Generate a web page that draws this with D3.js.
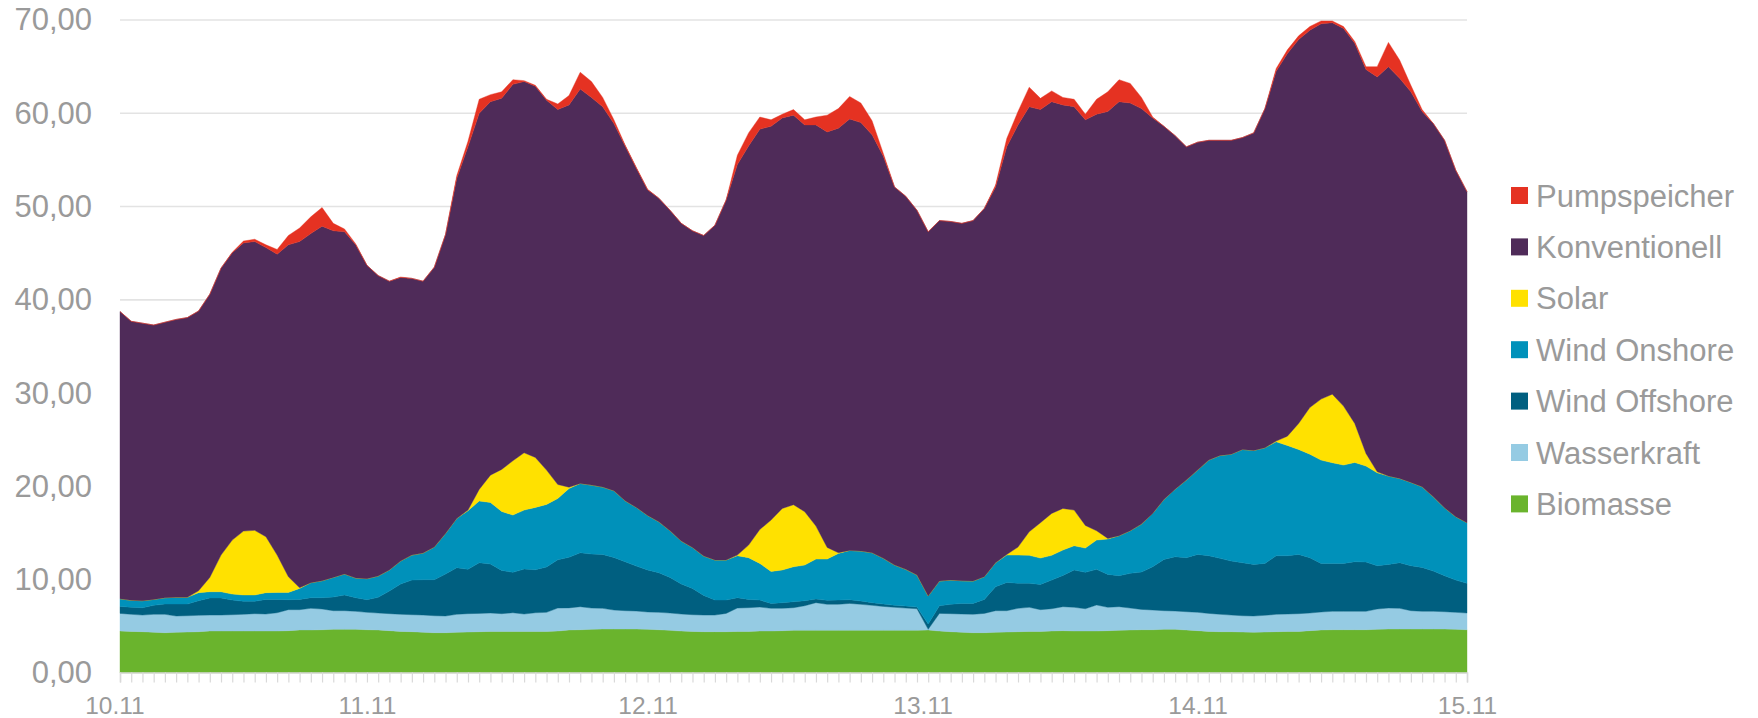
<!DOCTYPE html>
<html>
<head>
<meta charset="utf-8">
<script src="https://cdn.jsdelivr.net/npm/d3@7"></script>
<style>
  body { margin: 0; background: #fff; }
  svg { display: block; }
  text { font-family: "Liberation Sans", Arial, sans-serif; }
</style>
</head>
<body>
<div id="chart"></div>
<script>
// hourly values from 10.11 00:00 to 15.11 00:00 (121 points)
var biomasse = [
  4.50, 4.46, 4.43, 4.36, 4.32, 4.36, 4.39, 4.43, 4.50, 4.50, 4.50, 4.50, 4.50, 4.50, 4.50, 4.54, 4.61, 4.61, 4.64, 4.68,
  4.68, 4.68, 4.64, 4.61, 4.54, 4.46, 4.43, 4.36, 4.32, 4.32, 4.36, 4.39, 4.43, 4.46, 4.46, 4.46, 4.46, 4.46, 4.46, 4.50,
  4.61, 4.64, 4.68, 4.71, 4.71, 4.71, 4.71, 4.68, 4.64, 4.57, 4.50, 4.46, 4.43, 4.43, 4.43, 4.46, 4.46, 4.50, 4.50, 4.54,
  4.57, 4.57, 4.57, 4.57, 4.57, 4.57, 4.57, 4.57, 4.57, 4.57, 4.57, 4.57, 4.61, 4.50, 4.43, 4.36, 4.32, 4.32, 4.36, 4.39,
  4.43, 4.46, 4.46, 4.50, 4.54, 4.50, 4.50, 4.50, 4.54, 4.57, 4.61, 4.64, 4.64, 4.68, 4.68, 4.61, 4.54, 4.46, 4.43, 4.43,
  4.39, 4.36, 4.39, 4.43, 4.46, 4.46, 4.54, 4.61, 4.64, 4.64, 4.64, 4.64, 4.68, 4.71, 4.71, 4.71, 4.71, 4.71, 4.71, 4.68,
  4.64
];
var wasserkraft = [
  1.89, 1.83, 1.78, 1.93, 1.97, 1.75, 1.75, 1.75, 1.71, 1.71, 1.75, 1.79, 1.86, 1.82, 1.96, 2.25, 2.18, 2.32, 2.22, 2.00,
  2.00, 1.93, 1.86, 1.82, 1.82, 1.83, 1.82, 1.85, 1.82, 1.79, 1.93, 1.97, 1.96, 1.97, 1.90, 2.00, 1.86, 2.00, 2.04, 2.46,
  2.37, 2.47, 2.28, 2.22, 2.04, 1.97, 1.93, 1.86, 1.86, 1.86, 1.82, 1.79, 1.78, 1.78, 1.96, 2.50, 2.54, 2.57, 2.43, 2.39,
  2.43, 2.64, 2.97, 2.79, 2.79, 2.89, 2.79, 2.68, 2.57, 2.47, 2.39, 2.32, 0.07, 1.89, 1.93, 1.96, 1.97, 2.07, 2.32, 2.29,
  2.50, 2.58, 2.33, 2.39, 2.57, 2.54, 2.39, 2.79, 2.50, 2.54, 2.35, 2.18, 2.11, 2.00, 1.96, 1.96, 1.96, 1.93, 1.86, 1.78,
  1.75, 1.75, 1.79, 1.86, 1.86, 1.90, 1.89, 1.93, 1.97, 1.97, 1.97, 1.97, 2.18, 2.25, 2.22, 1.97, 1.90, 1.90, 1.86, 1.82,
  1.79
];
var windOffshore = [
  0.75, 0.75, 0.79, 0.96, 1.10, 1.28, 1.25, 1.57, 1.83, 1.83, 1.57, 1.39, 1.32, 1.57, 1.43, 1.07, 1.10, 1.14, 1.21, 1.46,
  1.68, 1.46, 1.36, 1.68, 2.43, 3.25, 3.71, 3.79, 3.86, 4.50, 5.00, 4.75, 5.43, 5.25, 4.64, 4.33, 4.82, 4.61, 4.86, 5.18,
  5.42, 5.78, 5.79, 5.78, 5.64, 5.25, 4.82, 4.50, 4.25, 3.82, 3.22, 2.82, 2.11, 1.61, 1.43, 1.11, 0.89, 0.75, 0.53, 0.61,
  0.64, 0.54, 0.39, 0.43, 0.46, 0.40, 0.35, 0.29, 0.25, 0.21, 0.22, 0.18, 0.57, 0.82, 1.00, 1.14, 1.17, 1.50, 2.57, 3.03,
  2.68, 2.57, 2.71, 3.07, 3.35, 4.00, 3.90, 3.82, 3.53, 3.32, 3.72, 4.00, 4.64, 5.50, 5.82, 5.79, 6.21, 6.18, 6.00, 5.79,
  5.68, 5.53, 5.57, 6.28, 6.25, 6.35, 5.93, 5.21, 5.14, 5.14, 5.32, 5.28, 4.64, 4.68, 4.89, 4.82, 4.71, 4.32, 3.86, 3.46,
  3.18
];
var windOnshore = [
  0.82, 0.75, 0.75, 0.64, 0.68, 0.72, 0.72, 0.86, 0.67, 0.67, 0.64, 0.68, 0.68, 0.72, 0.75, 0.78, 1.18, 1.61, 1.82, 2.11,
  2.25, 2.11, 2.25, 2.28, 2.25, 2.46, 2.68, 2.86, 3.50, 4.35, 5.28, 6.28, 6.61, 6.61, 6.32, 6.14, 6.32, 6.68, 6.71, 6.57,
  7.37, 7.43, 7.39, 7.22, 7.15, 6.53, 6.29, 5.85, 5.46, 5.00, 4.60, 4.39, 4.22, 4.29, 4.29, 4.50, 4.47, 3.93, 3.43, 3.50,
  3.75, 3.82, 4.28, 4.42, 5.00, 5.28, 5.36, 5.35, 4.90, 4.32, 3.93, 3.43, 3.00, 2.65, 2.60, 2.43, 2.40, 2.43, 2.57, 2.93,
  3.03, 3.00, 2.82, 2.65, 2.72, 2.60, 2.60, 3.14, 3.79, 4.28, 4.57, 5.14, 5.72, 6.43, 7.25, 8.32, 9.04, 10.25, 11.03, 11.46,
  12.14, 12.22, 12.39, 12.22, 11.82, 11.25, 11.10, 11.07, 10.79, 10.54, 10.64, 10.29, 9.96, 9.47, 9.04, 8.93, 8.64, 7.96, 7.28, 6.79,
  6.50
];
var solar = [
  0, 0, 0, 0, 0, 0, 0, 0.20, 1.54, 3.93, 5.79, 6.85, 6.93, 6.00, 4.00, 1.68, 0.07, 0, 0, 0,
  0, 0, 0, 0, 0, 0, 0, 0, 0, 0, 0, 0.07, 1.25, 2.92, 4.50, 5.82, 6.15, 5.36, 3.68, 1.50,
  0.15, 0, 0, 0, 0, 0, 0, 0, 0, 0, 0, 0, 0, 0, 0, 0.07, 1.35, 3.64, 5.50, 6.60,
  6.65, 5.72, 3.54, 1.25, 0.07, 0, 0, 0, 0, 0, 0, 0, 0, 0, 0, 0, 0, 0, 0, 0.07,
  0.86, 2.53, 3.79, 4.50, 4.46, 3.82, 2.43, 1.00, 0.07, 0, 0, 0, 0, 0, 0, 0, 0, 0, 0, 0,
  0, 0, 0, 0.07, 1.00, 2.79, 5.00, 6.54, 7.35, 6.32, 4.18, 1.36, 0.11, 0, 0, 0, 0, 0, 0, 0,
  0
];
var konventionell = [
  30.79, 29.91, 29.75, 29.41, 29.53, 29.79, 29.99, 29.99, 30.35, 30.76, 30.80, 30.89, 30.96, 30.99, 32.26, 35.58, 37.11, 37.42, 38.01, 37.15,
  36.69, 35.72, 33.59, 32.21, 30.96, 30.40, 29.66, 29.14, 30.00, 32.04, 36.43, 38.94, 40.32, 40.04, 39.78, 40.35, 39.79, 39.79, 39.65, 40.19,
  40.98, 42.28, 41.56, 40.77, 39.36, 38.04, 36.35, 34.91, 34.69, 34.35, 34.06, 33.94, 34.36, 35.89, 38.59, 41.86, 42.79, 42.91, 42.21, 41.86,
  41.76, 41.46, 43.00, 44.54, 45.51, 46.26, 45.93, 44.81, 43.11, 40.53, 39.99, 39.10, 39.05, 38.64, 38.44, 38.31, 38.64, 39.48, 40.28, 43.69,
  45.25, 45.56, 44.29, 44.14, 43.26, 43.24, 43.48, 44.65, 45.77, 46.54, 45.85, 44.54, 42.39, 39.99, 37.89, 35.72, 35.15, 34.28, 33.78, 33.64,
  33.44, 34.04, 36.36, 39.64, 41.01, 41.15, 40.44, 40.24, 39.81, 40.49, 40.75, 41.16, 42.33, 43.89, 42.89, 41.87, 40.24, 40.01, 39.39, 37.15,
  35.49
];
var pumpspeicher = [
  0, 0, 0, 0, 0, 0, 0, 0, 0, 0, 0.05, 0.20, 0.25, 0.30, 0.50, 1.00, 1.45, 1.80, 2.00, 0.80,
  0.30, 0.10, 0, 0, 0, 0.05, 0, 0, 0, 0, 0.30, 0.60, 1.50, 0.75, 0.70, 0.50, 0.10, 0.10, 0.10, 0.60,
  1.00, 1.80, 1.70, 1.00, 0.40, 0.10, 0.10, 0.05, 0, 0, 0, 0, 0, 0, 0, 1.00, 1.40, 1.30, 0.70, 0.40,
  0.60, 0.55, 0.85, 1.80, 2.10, 2.40, 2.10, 1.50, 0.30, 0, 0, 0, 0, 0, 0, 0, 0, 0, 0.20, 0.90,
  1.45, 2.10, 1.20, 1.15, 0.80, 0.80, 0.60, 1.60, 2.10, 2.35, 2.10, 1.20, 0.10, 0, 0, 0, 0, 0, 0, 0,
  0, 0, 0, 0.30, 0.40, 0.40, 0.40, 0.30, 0.20, 0.20, 0.20, 0.30, 1.10, 2.60, 1.95, 0.70, 0.20, 0, 0, 0,
  0
];

// day labels and the hour index where each one is centred
var dayLabels = ["10.11", "11.11", "12.11", "13.11", "14.11", "15.11"];
var dayLabelHours = [-0.5, 22, 47, 71.5, 96, 120];
var yTicks = [0, 10, 20, 30, 40, 50, 60, 70];

// series, bottom to top
var seriesNames = ["Biomasse", "Wasserkraft", "Wind Offshore", "Wind Onshore", "Solar", "Konventionell", "Pumpspeicher"];
var seriesValues = [biomasse, wasserkraft, windOffshore, windOnshore, solar, konventionell, pumpspeicher];
var colors = {
  "Biomasse": "#6ab42d",
  "Wasserkraft": "#95cbe3",
  "Wind Offshore": "#005f80",
  "Wind Onshore": "#0091ba",
  "Solar": "#ffe100",
  "Konventionell": "#4f2b59",
  "Pumpspeicher": "#e53222"
};

// build rows for the stack layout
var rows = biomasse.map(function(d, i) {
  var row = {hour: i};
  seriesNames.forEach(function(name, k) { row[name] = seriesValues[k][i]; });
  return row;
});

var width = 1758, height = 718;
var plot = {left: 120, right: 1467, top: 20, bottom: 673};

var svg = d3.select("#chart").append("svg")
    .attr("width", width)
    .attr("height", height);

var x = d3.scaleLinear()
    .domain([0, rows.length - 1])
    .range([plot.left, plot.right]);

var y = d3.scaleLinear()
    .domain([0, 70])
    .range([plot.bottom, plot.top]);

var de = d3.formatLocale({decimal: ",", thousands: ".", grouping: [3], currency: ["", " €"]});
var fmt = de.format(".2f");

// grid lines
svg.append("g")
  .selectAll("line")
  .data(yTicks.slice(1))
  .enter().append("line")
    .attr("x1", plot.left)
    .attr("x2", plot.right)
    .attr("y1", function(d) { return y(d); })
    .attr("y2", function(d) { return y(d); })
    .style("stroke", "#e3e3e3")
    .style("stroke-width", 1.6);

// stacked areas
var stack = d3.stack().keys(seriesNames);
var layers = stack(rows);

var area = d3.area()
    .x(function(d) { return x(d.data.hour); })
    .y0(function(d) { return y(d[0]); })
    .y1(function(d) { return y(d[1]); });

svg.append("g")
  .selectAll("path")
  .data(layers)
  .enter().append("path")
    .attr("d", area)
    .style("fill", function(d) { return colors[d.key]; })
    .style("stroke", function(d) { return colors[d.key]; })
    .style("stroke-width", 0.4);

// x axis: hourly ticks
var xAxis = d3.axisBottom(x)
    .tickValues(d3.range(0, rows.length))
    .tickSize(10)
    .tickFormat("");

var gx = svg.append("g")
    .attr("transform", "translate(0," + (plot.bottom - 0.5) + ")")
    .call(xAxis);
gx.select(".domain").style("stroke", "#d9d9d9").style("stroke-width", 1.6);
gx.selectAll(".tick line").style("stroke", "#d9d9d9").style("stroke-width", 1.2);

// x axis: day labels
var dayAxis = d3.axisBottom(x)
    .tickValues(dayLabelHours)
    .tickSize(0)
    .tickPadding(23.5)
    .tickFormat(function(d, i) { return dayLabels[i]; });

var gd = svg.append("g")
    .attr("transform", "translate(0," + plot.bottom + ")")
    .call(dayAxis);
gd.select(".domain").remove();
gd.selectAll("text")
    .style("font-family", "'Liberation Sans', Arial, sans-serif")
    .style("font-size", "24.5px")
    .style("fill", "#9a9a9a");

// y axis labels
var yAxis = d3.axisLeft(y)
    .tickValues(yTicks)
    .tickSize(0)
    .tickPadding(28)
    .tickFormat(fmt);

var gy = svg.append("g")
    .attr("transform", "translate(" + plot.left + ",0)")
    .call(yAxis);
gy.select(".domain").remove();
gy.selectAll("text")
    .style("font-family", "'Liberation Sans', Arial, sans-serif")
    .style("font-size", "31px")
    .style("fill", "#9a9a9a");

// legend, top to bottom
var legendNames = seriesNames.slice().reverse();
var legend = svg.append("g")
    .attr("transform", "translate(1511,195.5)");

var item = legend.selectAll("g")
    .data(legendNames)
  .enter().append("g")
    .attr("transform", function(d, i) { return "translate(0," + (i * 51.4) + ")"; });

item.append("rect")
    .attr("x", 0)
    .attr("y", -8.5)
    .attr("width", 17)
    .attr("height", 17)
    .style("fill", function(d) { return colors[d]; });

item.append("text")
    .attr("x", 25)
    .attr("dy", "0.36em")
    .style("font-size", "31px")
    .style("fill", "#9a9a9a")
    .text(function(d) { return d; });
</script>
</body>
</html>
